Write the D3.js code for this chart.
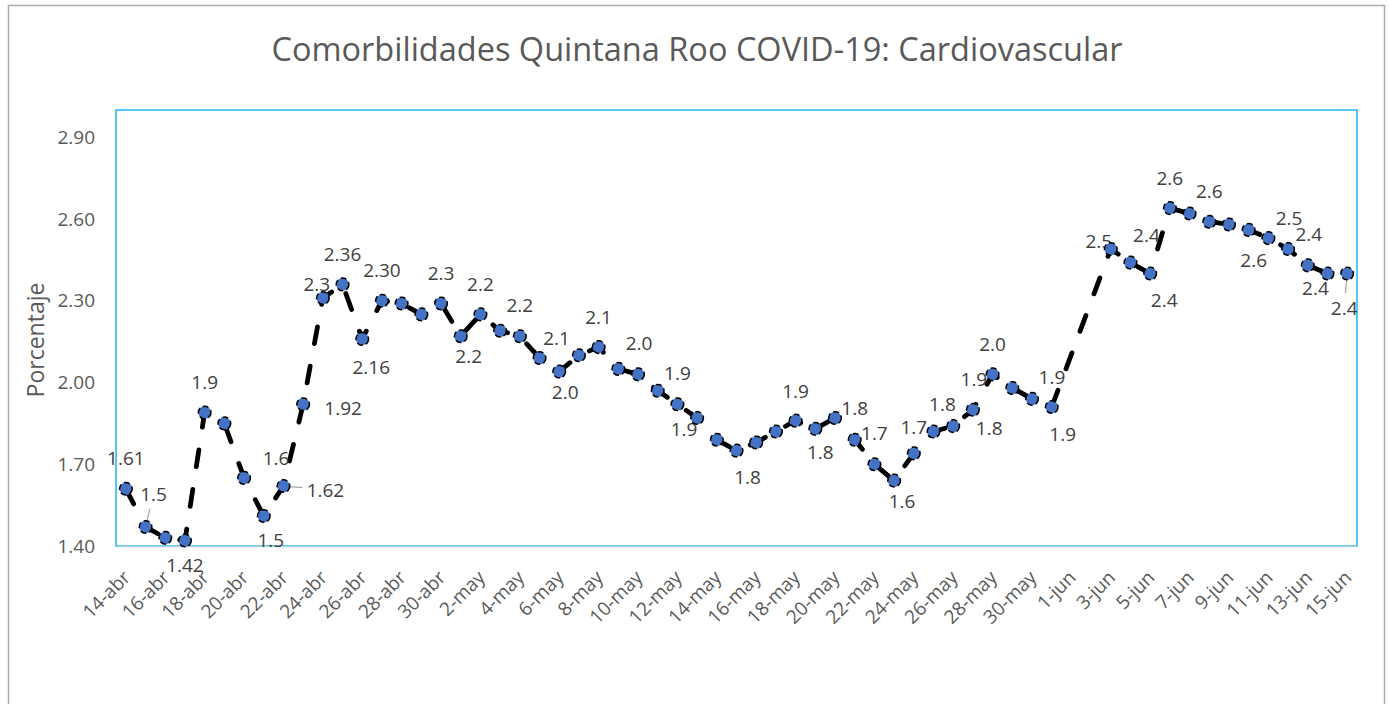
<!DOCTYPE html>
<html>
<head>
<meta charset="utf-8">
<script src="https://cdn.jsdelivr.net/npm/d3@7"></script>
<style>
  body { margin: 0; background: #fff; }
  svg { font-family: "Open Sans", sans-serif; }
</style>
</head>
<body>
<div id="chart"></div>
<script>
const dates = [
  "14-abr","15-abr","16-abr","17-abr","18-abr","19-abr","20-abr","21-abr","22-abr","23-abr",
  "24-abr","25-abr","26-abr","27-abr","28-abr","29-abr","30-abr",
  "1-may","2-may","3-may","4-may","5-may","6-may","7-may","8-may","9-may","10-may",
  "11-may","12-may","13-may","14-may","15-may","16-may","17-may","18-may","19-may","20-may",
  "21-may","22-may","23-may","24-may","25-may","26-may","27-may","28-may","29-may","30-may","31-may",
  "1-jun","2-jun","3-jun","4-jun","5-jun","6-jun","7-jun","8-jun","9-jun","10-jun",
  "11-jun","12-jun","13-jun","14-jun","15-jun"
];

const values = [
  1.61, 1.47, 1.43, 1.42, 1.89, 1.85, 1.65, 1.51, 1.62, 1.92,
  2.31, 2.36, 2.16, 2.30, 2.29, 2.25, 2.29,
  2.17, 2.25, 2.19, 2.17, 2.09, 2.04, 2.10, 2.13, 2.05, 2.03,
  1.97, 1.92, 1.87, 1.79, 1.75, 1.78, 1.82, 1.86, 1.83, 1.87,
  1.79, 1.70, 1.64, 1.74, 1.82, 1.84, 1.90, 2.03, 1.98, 1.94, 1.91,
  null, null, 2.49, 2.44, 2.40, 2.64, 2.62, 2.59, 2.58, 2.56,
  2.53, 2.49, 2.43, 2.40, 2.40
];

// data label text shown on the chart (null = no label)
const labels = [
  "1.61", "1.5", null, "1.42", "1.9", null, "1.6", "1.5", "1.62", "1.92",
  "2.3", "2.36", "2.16", "2.30", null, null, "2.3",
  "2.2", "2.2", null, "2.2", "2.1", "2.0", null, "2.1", null, "2.0",
  null, "1.9", "1.9", null, "1.8", null, null, "1.9", "1.8", null,
  "1.8", "1.7", "1.6", "1.7", "1.8", "1.8", "1.9", "2.0", null, "1.9", "1.9",
  null, null, "2.5", "2.4", "2.4", "2.6", null, "2.6", null, "2.6",
  null, "2.5", "2.4", "2.4", "2.4"
];

// label placement relative to its point, [dx, dy] in px
const labelNudge = [
  [0,-30], [8,-33], null, [0,25], [0,-30], null, [32,-20], [7,24], [42,4], [40,4],
  [-6,-14], [0,-30], [9,28], [0,-30], null, null, [0,-30],
  [8,20], [0,-30], null, [0,-31], [17,-20], [6,21], null, [0,-30], null, [1,-31],
  null, [0,-31], [-13,11], null, [11,27], null, null, [0,-29], [5,24], null,
  [0,-31], [0,-31], [8,21], [0,-26], [9,-27], [36,2], [1,-30], [0,-30], null, [20,-22], [11,27],
  null, null, [-12,-8], [16,-27], [14,27], [0,-30], null, [0,-30], null, [5,30],
  null, [1,-31], [1,-31], [-12,15], [-3,35]
];
const leaderDates = ["15-abr", "22-abr", "15-jun"];

const xTicks = [
  "14-abr","16-abr","18-abr","20-abr","22-abr","24-abr","26-abr","28-abr","30-abr",
  "2-may","4-may","6-may","8-may","10-may","12-may","14-may","16-may","18-may","20-may",
  "22-may","24-may","26-may","28-may","30-may",
  "1-jun","3-jun","5-jun","7-jun","9-jun","11-jun","13-jun","15-jun"
];
const yTicks = [1.40, 1.70, 2.00, 2.30, 2.60, 2.90];

const W = 1389, H = 704;
const plot = { left: 116, right: 1357, top: 110, bottom: 546 };

const svg = d3.select('#chart').append('svg')
  .attr('width', W)
  .attr('height', H);

svg.append('rect')
  .attr('x', 8.5).attr('y', 5.5)
  .attr('width', 1376).attr('height', 730)
  .attr('fill', '#fff')
  .attr('stroke', '#ABABAB')
  .attr('stroke-width', 1.5);

const x = d3.scaleBand()
  .domain(dates)
  .range([plot.left, plot.right]);
const y = d3.scaleLinear()
  .domain([1.4, 3.0])
  .range([plot.bottom, plot.top]);
const cx = d => x(d) + x.bandwidth() / 2;

// plot area border
svg.append('rect')
  .attr('x', plot.left).attr('y', plot.top)
  .attr('width', plot.right - plot.left)
  .attr('height', plot.bottom - plot.top)
  .attr('fill', 'none')
  .attr('stroke', '#1CB5F0')
  .attr('stroke-width', 1.5);

// x axis
const xAxis = svg.append('g')
  .attr('transform', `translate(0,${plot.bottom})`)
  .call(d3.axisBottom(x).tickValues(xTicks).tickSize(0));
xAxis.select('.domain')
  .attr('stroke', '#B4CFE0')
  .attr('stroke-width', 1.5);
xAxis.selectAll('text')
  .attr('font-size', 19)
  .attr('font-family', '"Open Sans", sans-serif')
  .attr('fill', '#595959')
  .attr('text-anchor', 'end')
  .attr('x', 0).attr('y', 0)
  .attr('dy', '0.35em')
  .attr('transform', 'translate(1,28) rotate(-45)');

// y axis
const yAxis = svg.append('g')
  .attr('transform', `translate(${plot.left},0)`)
  .call(d3.axisLeft(y).tickValues(yTicks).tickFormat(d3.format('.2f')).tickSize(0).tickPadding(21));
yAxis.select('.domain').remove();
yAxis.selectAll('text')
  .attr('font-size', 19)
  .attr('font-family', '"Open Sans", sans-serif')
  .attr('fill', '#595959');

// title
svg.append('text')
  .attr('x', 697).attr('y', 61)
  .attr('text-anchor', 'middle')
  .attr('font-size', 32.5)
  .attr('fill', '#595959')
  .text('Comorbilidades Quintana Roo COVID-19: Cardiovascular');

// y axis title
svg.append('text')
  .attr('transform', 'translate(44,340) rotate(-90)')
  .attr('text-anchor', 'middle')
  .attr('font-size', 23)
  .attr('fill', '#595959')
  .text('Porcentaje');

const points = dates.map((d, i) => ({ date: d, value: values[i], label: labels[i], nudge: labelNudge[i] }))
  .filter(p => p.value !== null);

const leaders = svg.append('g');

// dashed line (gaps connected)
const line = d3.line()
  .x(p => cx(p.date))
  .y(p => y(p.value));

svg.append('path')
  .datum(points)
  .attr('d', line)
  .attr('fill', 'none')
  .attr('stroke', '#000')
  .attr('stroke-width', 4.8)
  .attr('stroke-linecap', 'round')
  .attr('stroke-dasharray', '17,23');

// data labels
const labelled = points.filter(p => p.label);
const lbl = svg.append('g')
  .selectAll('text')
  .data(labelled)
  .enter().append('text')
  .attr('x', p => cx(p.date) + p.nudge[0])
  .attr('y', p => y(p.value) + p.nudge[1])
  .attr('dy', '0.35em')
  .attr('text-anchor', 'middle')
  .attr('font-size', 19)
  .attr('fill', '#404040')
  .text(p => p.label);

// leader lines
lbl.filter(p => leaderDates.includes(p.date)).each(function (p) {
  const b = this.getBBox();
  const lx = b.x + b.width / 2, ly = b.y + b.height / 2;
  const px = cx(p.date), py = y(p.value);
  const dx = px - lx, dy = py - ly;
  const len = Math.hypot(dx, dy);
  const ux = dx / len, uy = dy / len;
  const hw = b.width / 2 + 4, hh = b.height / 2 + 2;
  const t = Math.min(ux ? hw / Math.abs(ux) : Infinity, uy ? hh / Math.abs(uy) : Infinity);
  leaders.append('line')
    .attr('x1', lx + ux * t).attr('y1', ly + uy * t)
    .attr('x2', px).attr('y2', py)
    .attr('stroke', '#A6A6A6')
    .attr('stroke-width', 1.2);
});

// markers
svg.append('g')
  .selectAll('circle')
  .data(points)
  .enter().append('circle')
  .attr('cx', p => cx(p.date))
  .attr('cy', p => y(p.value))
  .attr('r', 6.3)
  .attr('fill', '#4472C4')
  .attr('stroke', '#000')
  .attr('stroke-width', 1.5)
  .attr('stroke-dasharray', '6,3');
</script>
</body>
</html>
